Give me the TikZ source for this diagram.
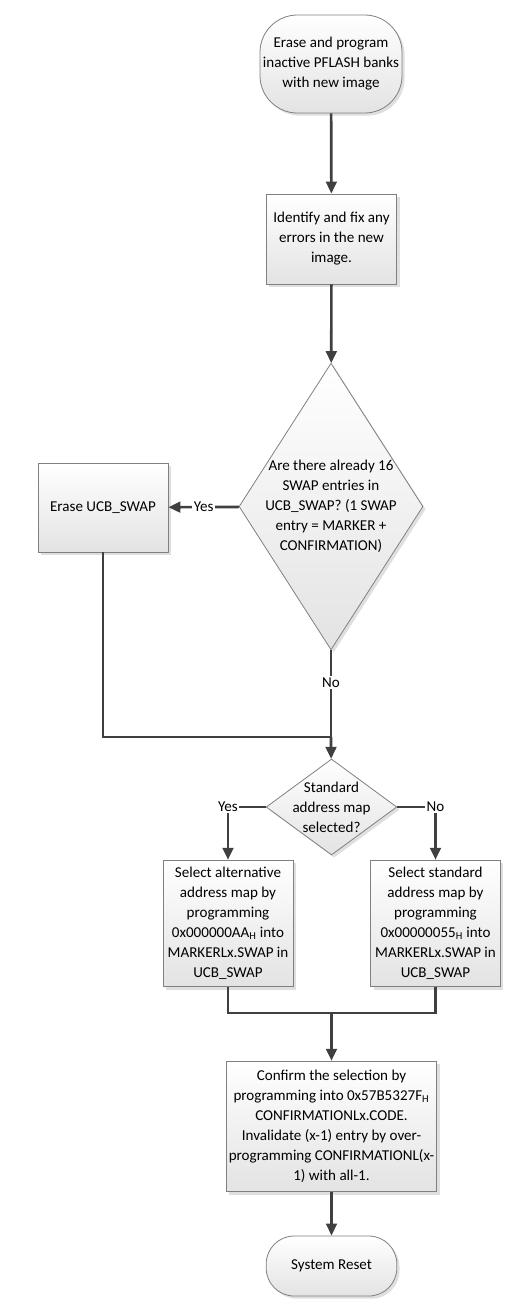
\documentclass[tikz,border=0pt]{standalone}
\usepackage{fontspec}
\setmainfont{Carlito}
\usetikzlibrary{shapes.geometric,arrows.meta,shadows}
\definecolor{trait}{HTML}{404040}
\definecolor{bord}{HTML}{808080}
\begin{document}
\begin{tikzpicture}[x=0.75pt,y=-0.75pt]
	\tikzset{texte/.style={font=\fontsize{11.3}{15}\selectfont, align=center, text=black},
		forme/.style={texte, draw=bord, line width=0.6pt, top color=white, bottom color=black!11, drop shadow={opacity=0.25, shadow xshift=2pt, shadow yshift=-2pt}, inner sep=0pt},
		boite/.style={forme, rectangle},
		terminal/.style={forme, rectangle},
		losange/.style={forme, diamond},
		fleche/.style={-{Triangle[length=9pt,width=8pt]}, draw=trait, line width=2pt},
		ligne/.style={draw=trait, line width=2pt},
		etiquette/.style={texte, fill=white, inner sep=1pt}};
	\useasboundingbox (0,0) rectangle (515,1314);

	\node[terminal, minimum width=106.5pt, minimum height=73.5pt, rounded corners=28pt] (debut) at (331,64) {Erase and program\\inactive PFLASH banks\\with new image};
	\node[boite, minimum width=98pt, minimum height=67.5pt] (corriger) at (331.5,239) {Identify and fix any\\errors in the new\\image.};
	\node[losange, minimum width=138pt, minimum height=215pt, label={[texte]center:Are there already 16\\SWAP entries in\\UCB\_SWAP? (1 SWAP\\entry = MARKER +\\CONFIRMATION)}] (seize) at (331,506.5) {};
	\node[boite, minimum width=97.5pt, minimum height=66.75pt] (effacer) at (103,507.5) {Erase UCB\_SWAP};
	\node[losange, minimum width=98pt, minimum height=72pt, label={[texte]center:Standard\\address map\\selected?}] (standard) at (331.5,807) {};
	\node[boite, minimum width=97.5pt, minimum height=95pt] (alternatif) at (228,923.5) {Select alternative\\address map by\\programming\\0x000000AA\textsubscript{H} into\\MARKERLx.SWAP in\\UCB\_SWAP};
	\node[boite, minimum width=97pt, minimum height=95pt] (normal) at (435.5,923.5) {Select standard\\address map by\\programming\\0x00000055\textsubscript{H} into\\MARKERLx.SWAP in\\UCB\_SWAP};
	\node[boite, minimum width=158pt, minimum height=98pt] (confirmer) at (331.5,1126.5) {Confirm the selection by\\programming into 0x57B5327F\textsubscript{H}\\CONFIRMATIONLx.CODE.\\Invalidate (x-1) entry by over-\\programming CONFIRMATIONL(x-\\1) with all-1.};
	\node[terminal, minimum width=98pt, minimum height=45pt, rounded corners=21pt] (reset) at (331.5,1266) {System Reset};
	\coordinate (jonction) at (331,737);
	\coordinate (fusion) at (331.5,1013);

	\draw[fleche] (debut) -- (corriger);
	\draw[fleche] (corriger) -- (seize);
	\draw[fleche] (seize) -- node[etiquette] {Yes} (effacer);
	\draw[ligne] (seize) -- node[etiquette, pos=0.37] {No} (jonction);
	\draw[ligne] (effacer) |- (jonction);
	\draw[fleche] (jonction) -- (standard);
	\draw[fleche] (standard) -| node[etiquette, pos=0.5] {Yes} (alternatif);
	\draw[fleche] (standard) -| node[etiquette, pos=0.5] {No} (normal);
	\draw[ligne] (alternatif) |- (fusion) -| (normal);
	\draw[fleche] (fusion) -- (confirmer);
	\draw[fleche] (confirmer) -- (reset);
\end{tikzpicture}
\end{document}
